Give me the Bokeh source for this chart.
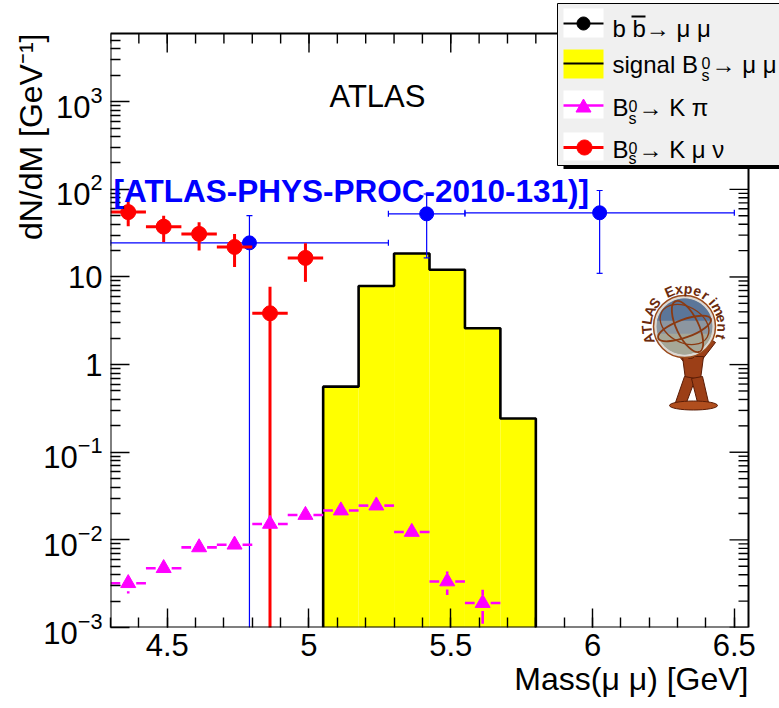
import math
import numpy as np
from bokeh.plotting import figure
from bokeh.models import (Range1d, LinearScale, FixedTicker, LogTickFormatter, Label,
                          Title, BoxAnnotation, PolyAnnotation)
from bokeh.core.properties import value
from bokeh.embed import file_html
from bokeh.resources import INLINE

# ---------------- data ----------------
# b bbar -> mu mu background (variable-width bins)
bb_lo = [4.30, 5.28, 5.55]
bb_hi = [5.28, 5.55, 6.50]
bb_val = [24.5, 52.5, 54.0]
bb_err = [25.5, 36.0, 43.0]

# signal Bs -> mu mu histogram
sig_lo = [5.050, 5.175, 5.300, 5.425, 5.550, 5.675]
sig_hi = [5.175, 5.300, 5.425, 5.550, 5.675, 5.800]
sig_val = [0.56, 7.9, 18.5, 12.1, 2.6, 0.243]

# Bs -> K mu nu
kmunu_mass = [4.3625, 4.4875, 4.6125, 4.7375, 4.8625, 4.9875]
kmunu_val = [55.0, 37.5, 31.0, 22.0, 3.85, 16.5]
kmunu_err = [17.0, 12.5, 11.0, 9.0, 3.9, 7.7]
kmunu_xerr = [0.0625, 0.0625, 0.0625, 0.0625, 0.0625, 0.0625]

# Bs -> K pi
kpi_mass = [4.3625, 4.4875, 4.6125, 4.7375, 4.8625, 4.9875,
            5.1125, 5.2375, 5.3625, 5.4875, 5.6125]
kpi_val = [3.2e-3, 4.75e-3, 8.2e-3, 8.8e-3, 1.52e-2, 1.92e-2,
           2.16e-2, 2.46e-2, 1.23e-2, 3.35e-3, 1.9e-3]
kpi_err = [0.75e-3, 0.6e-3, 0.9e-3, 0.9e-3, 1.6e-3, 2.0e-3,
           2.3e-3, 3.5e-3, 1.5e-3, 1.0e-3, 0.8e-3]
kpi_xerr = [0.0625, 0.0625, 0.0625, 0.0625, 0.0625, 0.0625,
            0.0625, 0.0625, 0.0625, 0.0625, 0.0625]

x_ticks = [4.5, 5.0, 5.5, 6.0, 6.5]
x_tick_labels = ["4.5", "5", "5.5", "6", "6.5"]
y_ticks = [1e-3, 1e-2, 1e-1, 1.0, 10.0, 1e2, 1e3]
y_plain_labels = {1.0: "1", 10.0: "10"}

X_RANGE = (4.3, 6.55)
Y_RANGE = (1e-3, 6.0e3)

# ---------------- layout ----------------
# The plotting frame reaches the top and right canvas edges so the legend
# can hang over the corner of the axes box; the axes box itself is drawn
# as a glyph spanning X_RANGE x Y_RANGE.
W, H = 779, 708
ML, MB = 110, 81
BOX_W, BOX_H = 638, 594          # axes box in pixels
BOX_TOP = 33                     # canvas y of the axes box top
FONT = "Liberation Sans"
DESC = 0.212                     # font descent, in em
LOGSPAN = math.log10(Y_RANGE[1] / Y_RANGE[0])
FLOOR = 1e-4


def dx(px):
    """pixels -> GeV along x"""
    return px * (X_RANGE[1] - X_RANGE[0]) / BOX_W


def fy(px):
    """pixels -> multiplicative factor along log y"""
    return 10 ** (px * LOGSPAN / BOX_H)


def sx(cx):
    return cx - ML


def sy(cy):
    return (H - MB) - cy


x_full = (X_RANGE[0], X_RANGE[1] + dx(W - ML - BOX_W))
y_full = (Y_RANGE[0], Y_RANGE[1] * fy(BOX_TOP))

p = figure(width=W, height=H, x_range=Range1d(*x_full), y_range=Range1d(*y_full),
           y_axis_type="log", output_backend="svg", toolbar_location=None,
           min_border_left=ML, min_border_right=0, min_border_top=0,
           min_border_bottom=MB)
p.background_fill_color = "white"
p.border_fill_color = "white"
p.outline_line_color = None
p.grid.visible = False

x_minor = [round(v, 2) for v in np.arange(4.3, 6.551, 0.1)]
y_minor = [k * 10.0 ** e for e in range(-3, 4) for k in range(2, 10)
           if k * 10.0 ** e < Y_RANGE[1]]
xticker = FixedTicker(ticks=x_ticks, minor_ticks=x_minor)
yticker = FixedTicker(ticks=y_ticks, minor_ticks=y_minor)

MAJ, MIN, TW = 19, 10, 1.4


def style_axis(ax):
    ax.axis_line_color = None
    ax.major_tick_in = MAJ
    ax.major_tick_out = 0
    ax.minor_tick_in = MIN
    ax.minor_tick_out = 0
    ax.major_tick_line_color = "black"
    ax.minor_tick_line_color = "black"
    ax.major_tick_line_width = TW
    ax.minor_tick_line_width = TW
    ax.major_label_text_font = FONT
    ax.major_label_text_color = "black"
    ax.major_label_text_font_size = "31px"


xa = p.xaxis[0]
xa.ticker = xticker
xa.major_label_overrides = dict(zip(x_ticks, x_tick_labels))
style_axis(xa)
xa.major_label_standoff = 6

ya = p.yaxis[0]
ya.ticker = yticker
ya.formatter = LogTickFormatter()
ya.major_label_overrides = y_plain_labels
style_axis(ya)
ya.major_label_standoff = 8

# axis titles
p.add_layout(Title(text="Mass(\u03bc \u03bc) [GeV]", align="right", offset=31,
                   standoff=1, text_font=FONT, text_font_style="normal",
                   text_font_size="32px", text_color="black"), "below")
p.add_layout(Title(text="dN/dM [GeV\u207b\u00b9]", align="right", offset=33,
                   standoff=-16, text_font=FONT, text_font_style="normal",
                   text_font_size="32px", text_color="black"), "left")

# ---------------- signal histogram ----------------
p.quad(left=sig_lo, right=sig_hi, top=sig_val, bottom=Y_RANGE[0],
       fill_color="#ffff00", line_color=None)
hx, hy = [sig_lo[0]], [Y_RANGE[0]]
for lo, hi, v in zip(sig_lo, sig_hi, sig_val):
    hx += [lo, hi]
    hy += [v, v]
hx.append(sig_hi[-1])
hy.append(Y_RANGE[0])
p.line(hx, hy, line_color="black", line_width=2.6)

# ---------------- b bbar -> mu mu ----------------
bb_mid = [(a + b) / 2 for a, b in zip(bb_lo, bb_hi)]
BLUE = "#0000ff"
p.segment(bb_lo, bb_val, bb_hi, bb_val, line_color=BLUE, line_width=1.2)
p.segment(bb_mid, [max(v - e, FLOOR) for v, e in zip(bb_val, bb_err)],
          bb_mid, [v + e for v, e in zip(bb_val, bb_err)],
          line_color=BLUE, line_width=1.2)
cap_x = bb_lo + bb_hi
cap_v = bb_val + bb_val
p.segment(cap_x, [v / fy(3) for v in cap_v], cap_x, [v * fy(3) for v in cap_v],
          line_color=BLUE, line_width=1.2)
cy_x, cy_y = [], []
for m, v, e in zip(bb_mid, bb_val, bb_err):
    cy_x.append(m)
    cy_y.append(v + e)
    if v - e > Y_RANGE[0]:
        cy_x.append(m)
        cy_y.append(v - e)
p.segment([m - dx(3) for m in cy_x], cy_y, [m + dx(3) for m in cy_x], cy_y,
          line_color=BLUE, line_width=1.2)
p.scatter(bb_mid, bb_val, marker="circle", size=14, fill_color=BLUE, line_color=BLUE)

# ---------------- Bs -> K mu nu ----------------
RED = "#ff0000"
p.segment([m - e for m, e in zip(kmunu_mass, kmunu_xerr)], kmunu_val,
          [m + e for m, e in zip(kmunu_mass, kmunu_xerr)], kmunu_val,
          line_color=RED, line_width=3)
p.segment(kmunu_mass, [max(v - e, FLOOR) for v, e in zip(kmunu_val, kmunu_err)],
          kmunu_mass, [v + e for v, e in zip(kmunu_val, kmunu_err)],
          line_color=RED, line_width=3)
p.scatter(kmunu_mass, kmunu_val, marker="circle", size=15, fill_color=RED, line_color=RED)

# ---------------- Bs -> K pi (error bars leave a gap round the marker) ----------------
MAG = "#ff00ff"
GAP = 8
sx0, sy0, sx1, sy1 = [], [], [], []
for m, v, e, xe in zip(kpi_mass, kpi_val, kpi_err, kpi_xerr):
    sx0 += [m - xe, m + dx(GAP)]
    sx1 += [m - dx(GAP), m + xe]
    sy0 += [v, v]
    sy1 += [v, v]
    if v + e > v * fy(GAP):
        sx0.append(m); sx1.append(m)
        sy0.append(v * fy(GAP)); sy1.append(v + e)
    if v - e < v / fy(GAP):
        sx0.append(m); sx1.append(m)
        sy0.append(v / fy(GAP)); sy1.append(max(v - e, FLOOR))
p.segment(sx0, sy0, sx1, sy1, line_color=MAG, line_width=2.6)
p.scatter(kpi_mass, kpi_val, marker="triangle", size=15, fill_color=MAG, line_color=MAG)

# ---------------- axes box and mirrored ticks on top / right ----------------
p.quad(left=X_RANGE[0], right=X_RANGE[1], bottom=Y_RANGE[0], top=Y_RANGE[1],
       fill_color=None, line_color="black", line_width=2)
tx = x_ticks + x_minor
tl = [MAJ] * len(x_ticks) + [MIN] * len(x_minor)
p.segment(tx, [Y_RANGE[1]] * len(tx), tx, [Y_RANGE[1] / fy(L) for L in tl],
          line_color="black", line_width=TW)
ty = y_ticks + y_minor
tl = [MAJ] * len(y_ticks) + [MIN] * len(y_minor)
p.segment([X_RANGE[1]] * len(ty), ty, [X_RANGE[1] - dx(L) for L in tl], ty,
          line_color="black", line_width=TW)

# ---------------- ATLAS logo (frame-pixel coordinates) ----------------
p.extra_x_ranges = {"px": Range1d(0, W - ML)}
p.extra_y_ranges = {"px": Range1d(0, H - MB)}
p.extra_x_scales = {"px": LinearScale()}
p.extra_y_scales = {"px": LinearScale()}
PX = dict(x_range_name="px", y_range_name="px")
LX, LY = sx(684), sy(326)
GR = 28
BROWN = "#8b3a12"
BRONZE = "#9c3f17"
DARK = "#5a1c06"


def opos(pts):
    return [LX + a for a, b in pts], [LY - b for a, b in pts]


# statue (behind the globe)
body_parts = [
    [(-17, 16), (-10, 13), (4, 31), (-1, 35)],        # left arm
    [(25, 12), (31, 16), (17, 34), (11, 31)],         # right arm
    [(-2, 30), (19, 30), (16, 53), (1, 53)],          # torso
    [(0, 50), (11, 52), (2, 76), (-9, 76)],           # left leg
    [(7, 52), (18, 50), (24, 76), (13, 76)],          # right leg
]
for part in body_parts:
    xs, ys = opos(part)
    p.patch(xs, ys, fill_color=BRONZE, line_color=DARK, line_width=1, **PX)
p.circle([LX + 6], [LY - 27], radius=5, fill_color=BRONZE, line_color=DARK, **PX)
p.ellipse([LX + 9], [LY - 79], width=48, height=9, fill_color="#b04e1e",
          line_color=DARK, line_width=1, **PX)

# globe
p.circle([LX], [LY], radius=GR + 3, fill_color="#dcd8d2", line_color="#9a4a1c",
         line_width=1.5, **PX)
p.circle([LX], [LY], radius=GR, fill_color="#8c96a0", line_color=None, **PX)
th = np.radians(np.linspace(12, 168, 30))
p.patch(list(LX + GR * np.cos(th)), list(LY + GR * np.sin(th)),
        fill_color="#5b7699", line_color=None, **PX)
th = np.radians(np.linspace(195, 345, 30))
p.patch(list(LX + GR * np.cos(th)), list(LY + GR * np.sin(th)),
        fill_color="#a6a797", line_color=None, **PX)
p.ellipse([LX], [LY - 2], width=2 * GR, height=18, angle=0.35, fill_color=None,
          line_color=BROWN, line_width=1.8, **PX)
p.ellipse([LX + 3], [LY], width=22, height=2 * GR, angle=0.45, fill_color=None,
          line_color=BROWN, line_width=1.8, **PX)
p.ellipse([LX], [LY + 2], width=2 * GR - 4, height=36, angle=-0.5, fill_color=None,
          line_color=BROWN, line_width=1.3, **PX)

arc_text = "ATLAS Experiment"
arc_ang = np.radians(np.linspace(199, -16, len(arc_text)))
p.text(x=list(LX + 38 * np.cos(arc_ang)), y=list(LY + 38 * np.sin(arc_ang)),
       text=list(arc_text), angle=list(arc_ang - math.pi / 2),
       text_font=value(FONT), text_font_style="bold", text_font_size="14px",
       text_color="#6b2a0c", text_align="center", text_baseline="middle", **PX)

# ---------------- texts ----------------
def add_label(cx, base, text, size, **kw):
    """place a text by the canvas position of its left end (or centre) and baseline"""
    kw.setdefault("text_font", FONT)
    kw.setdefault("text_color", "black")
    p.add_layout(Label(x=sx(cx), y=sy(base + DESC * size), x_units="screen",
                       y_units="screen", text=text, text_baseline="bottom",
                       text_font_size=f"{size}px", **kw))


add_label(377, 107, "ATLAS", 31, text_align="center")
add_label(113, 201.5, "[ATLAS-PHYS-PROC-2010-131)]", 31.5, text_color=BLUE,
          text_font_style="bold")

# ---------------- legend ----------------
def add_box(l, t, r, b, color, **kw):
    p.add_layout(BoxAnnotation(left=sx(l), right=sx(r), top=sy(t), bottom=sy(b),
                               left_units="screen", right_units="screen",
                               top_units="screen", bottom_units="screen",
                               fill_color=color, fill_alpha=1.0,
                               line_color=kw.get("line_color", None), line_alpha=1.0,
                               line_width=kw.get("line_width", 1)))


def add_poly(pts, color):
    p.add_layout(PolyAnnotation(xs=[float(sx(a)) for a, b in pts],
                                ys=[float(sy(b)) for a, b in pts],
                                xs_units="screen", ys_units="screen",
                                fill_color=color, fill_alpha=1.0,
                                line_color=color, line_alpha=1.0, line_width=1))


def circle_pts(cx, cy, r):
    t = np.linspace(0, 2 * math.pi, 28, endpoint=False)
    return list(zip(cx + r * np.cos(t), cy + r * np.sin(t)))


add_box(563, 8, 800, 168.5, "black")
add_box(557, 3, 800, 165, "#f0f0f0", line_color="black", line_width=1)

rows = [23, 63, 105, 147]
add_box(563, rows[0] - 15, 603, rows[0] + 14, "white")
add_box(563, rows[1] - 14, 603, rows[1] + 15, "#ffff00")
add_box(563, rows[2] - 15, 603, rows[2] + 13, "white")
add_box(563, rows[3] - 15, 603, rows[3] + 13, "white")

add_box(563, rows[0] - 1, 603, rows[0] + 1, "black")
add_poly(circle_pts(583, rows[0], 6.5), "black")
add_box(563, rows[1] - 1, 603, rows[1] + 1, "black")
add_box(563, rows[2] - 1.3, 603, rows[2] + 1.3, MAG)
add_poly([(575.5, rows[2] + 6.5), (590.5, rows[2] + 6.5), (583, rows[2] - 6.5)], MAG)
add_box(563, rows[3] - 1.5, 603, rows[3] + 1.5, RED)
add_poly(circle_pts(584, rows[3], 7.5), RED)

LEG = 24
SUP = 16
# row 1: b bbar -> mu mu
add_label(612, 36, "b b\u2192 \u03bc \u03bc", LEG)
add_box(631, 15, 645, 17, "black")
# row 2: signal
add_label(612, 72, "signal B", LEG)
add_label(701, 65.5, "0", SUP)
add_label(701, 80.5, "s", SUP)
add_label(711, 72, "\u2192 \u03bc \u03bc", LEG)
# row 3: K pi
add_label(612, 115, "B", LEG)
add_label(628, 108.5, "0", SUP)
add_label(628, 123, "s", SUP)
add_label(638, 115, "\u2192 K \u03c0", LEG)
# row 4: K mu nu
add_label(612, 157, "B", LEG)
add_label(628, 150.5, "0", SUP)
add_label(628, 163.5, "s", SUP)
add_label(638, 157, "\u2192 K \u03bc \u03bd", LEG)

open("out.html", "w").write(file_html(p, INLINE))
